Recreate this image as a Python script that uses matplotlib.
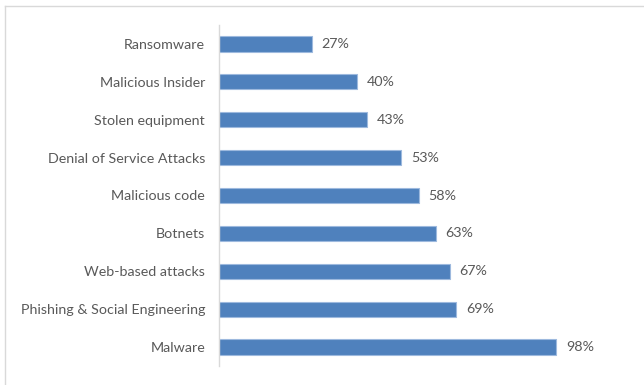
import matplotlib.pyplot as plt
from matplotlib.lines import Line2D

categories = ['Malware', 'Phishing & Social Engineering', 'Web-based attacks', 'Botnets',
              'Malicious code', 'Denial of Service Attacks', 'Stolen equipment',
              'Malicious Insider', 'Ransomware']
values = [98, 69, 67, 63, 58, 53, 43, 40, 27]

W, H = 644, 385
fig = plt.figure(figsize=(W / 100, H / 100), dpi=100)
ax = fig.add_axes([219 / W, 19 / H, (632 - 219) / W, (360 - 19) / H])

text_color = '#595959'
font = 'Lato'
fsize = 10.3

ypos = range(len(categories))
bars = ax.barh(ypos, values, height=0.4, color='#4F81BD', edgecolor='#9DB9DE', linewidth=0.8)
for y, v in zip(ypos, values):
    ax.annotate(f'{v}%', xy=(v, y), xytext=(7, 0), textcoords='offset points',
                va='center', ha='left', color=text_color, fontsize=fsize, family=font)

ax.set_xlim(0, 120)
ax.set_ylim(-0.5, len(categories) - 0.5)
ax.set_yticks(list(ypos))
ax.set_yticklabels(categories, color=text_color, fontsize=fsize, family=font)
ax.tick_params(axis='y', length=0, pad=10)
ax.set_xticks([])
for side in ['top', 'right', 'bottom']:
    ax.spines[side].set_visible(False)
ax.spines['left'].set_color('#d9d9d9')
ax.spines['left'].set_linewidth(1)

# chart area border (only top and left visible in the crop)
fig.add_artist(Line2D([4.5 / W, 1], [1 - 5.5 / H, 1 - 5.5 / H], color='#d9d9d9', lw=1))
fig.add_artist(Line2D([4.5 / W, 4.5 / W], [0, 1 - 5.5 / H], color='#d9d9d9', lw=1))

fig.savefig('out.png', dpi=100)
